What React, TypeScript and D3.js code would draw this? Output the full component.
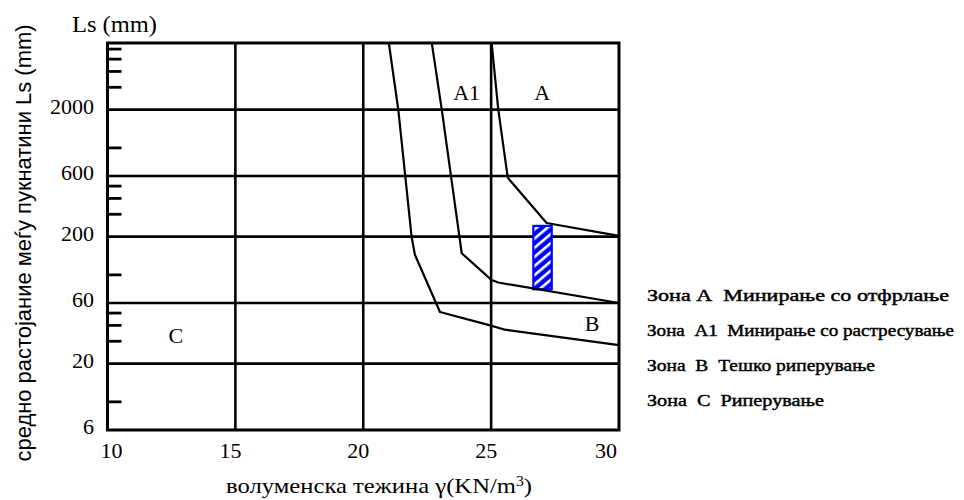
import React from 'react';
import * as d3 from 'd3';

// zone boundary curves: x = volume weight (KN/m3), y = Ls (mm)
const bcX = [21.0, 21.37, 21.89, 22.02, 23.0, 24.96, 25.54, 30];
const bcY = [6700, 2000, 200, 144, 51, 40, 37, 28];
const a1bX = [22.68, 23.07, 23.76, 23.85, 25.02, 25.28, 30];
const a1bY = [6700, 2000, 200, 148, 91, 87, 60];
const aa1X = [25.02, 25.28, 25.65, 27.17, 30];
const aa1Y = [6700, 2000, 583, 256, 203];

// hatched measurement range
const boxX = [26.65, 27.37];
const boxY = [77, 243];

const xTicks = [10, 15, 20, 25, 30];
const yTicks = [6, 20, 60, 200, 600, 2000];
const yMinor = [10, 30, 40, 50, 100, 300, 400, 500, 1000, 3000, 4000, 5000, 6000];

const zoneLabels = ['A1', 'A', 'B', 'C'];
const zoneLabelX = [24.04, 27.0, 28.95, 12.67];
const zoneLabelY = [2400, 2400, 36, 29];

const legend = [
  'Зона А  Минирање со отфрлање',
  'Зона  А1  Минирање со растресување',
  'Зона  В  Тешко риперување',
  'Зона  С  Риперување',
];
const legendWidths = [302, 307, 228, 177];

const margin = { top: 43, right: 345, bottom: 70, left: 107.5 };
const W = 964;
const H = 500;

export default function App() {
  const x = d3.scaleLinear().domain([10, 30]).range([margin.left, W - margin.right]);
  const y = d3.scaleLog().domain([6, 6700]).range([H - margin.bottom, margin.top]);

  const line = d3
    .line<[number, number]>()
    .x(d => x(d[0]))
    .y(d => y(d[1]));

  const curves = [
    d3.zip(bcX, bcY) as [number, number][],
    d3.zip(a1bX, a1bY) as [number, number][],
    d3.zip(aa1X, aa1Y) as [number, number][],
  ];

  const [x0, x1] = x.range();
  const [y0, y1] = y.range();
  const serif = '"Liberation Serif", "Times New Roman", serif';

  const xLabelAnchor = (i: number) => (i === 0 ? 'start' : i === xTicks.length - 1 ? 'end' : 'middle');
  const xLabelShift = (i: number) => (i === 0 ? -7 : i === xTicks.length - 1 ? -2 : -5);

  return (
    <div style={{ position: 'absolute', left: 0, top: 0 }}>
      <svg width={W} height={H} style={{ display: 'block', background: '#fff' }}>
        <defs>
          <pattern id="hatch" patternUnits="userSpaceOnUse" width="7" height="7" patternTransform="rotate(-40)">
            <rect width="7" height="7" fill="#0000ff" />
            <rect y="0" width="7" height="2.6" fill="#fff" />
          </pattern>
        </defs>

        {/* grid */}
        {xTicks.slice(1, -1).map(t => (
          <line key={'gx' + t} x1={x(t)} x2={x(t)} y1={y0} y2={y1} stroke="#000" strokeWidth={2.6} />
        ))}
        {yTicks.slice(1).map(t => (
          <line key={'gy' + t} x1={x0} x2={x1} y1={y(t)} y2={y(t)} stroke="#000" strokeWidth={2.6} />
        ))}
        {yMinor.map(t => (
          <line key={'m' + t} x1={x0} x2={x0 + 14} y1={y(t)} y2={y(t)} stroke="#000" strokeWidth={2.8} />
        ))}

        {/* hatched box */}
        <rect
          x={x(boxX[0])}
          y={y(boxY[1])}
          width={x(boxX[1]) - x(boxX[0])}
          height={y(boxY[0]) - y(boxY[1])}
          fill="url(#hatch)"
          stroke="#0000ff"
          strokeWidth={2.2}
        />

        {/* curves */}
        {curves.map((c, i) => (
          <path key={'c' + i} d={line(c) || ''} fill="none" stroke="#000" strokeWidth={2.2} strokeLinejoin="round" />
        ))}

        {/* frame */}
        <rect x={x0} y={y1} width={x1 - x0} height={y0 - y1} fill="none" stroke="#000" strokeWidth={3} />

        {/* tick labels */}
        {xTicks.map((t, i) => (
          <text
            key={'xt' + t}
            x={x(t) + xLabelShift(i)}
            y={458}
            textAnchor={xLabelAnchor(i)}
            fontFamily={serif}
            fontSize={22}
          >
            {t}
          </text>
        ))}
        {yTicks.map(t => (
          <text key={'yt' + t} x={94} y={y(t) + 4} textAnchor="end" fontFamily={serif} fontSize={22}>
            {t}
          </text>
        ))}

        {/* zone letters */}
        {zoneLabels.map((l, i) => (
          <text
            key={'z' + l}
            x={x(zoneLabelX[i])}
            y={y(zoneLabelY[i])}
            textAnchor="middle"
            fontFamily={serif}
            fontSize={22}
          >
            {l}
          </text>
        ))}

        {/* axis titles */}
        <text x={72} y={32} fontFamily={serif} fontSize={24} textLength={85} lengthAdjust="spacingAndGlyphs">
          Ls (mm)
        </text>
        <text
          x={226}
          y={493}
          fontFamily={serif}
          fontSize={22}
          textLength={306}
          lengthAdjust="spacingAndGlyphs"
        >
          волуменска тежина γ(KN/m<tspan baselineShift="super" fontSize={14}>3</tspan>)
        </text>
        <text
          transform="translate(31,243) rotate(-90)"
          textAnchor="middle"
          fontFamily='"Liberation Sans", Arial, sans-serif'
          fontSize={22}
          textLength={437}
          lengthAdjust="spacingAndGlyphs"
        >
          средно растојание меѓу пукнатини Ls (mm)
        </text>

        {/* legend */}
        {legend.map((l, i) => (
          <text
            key={'lg' + i}
            x={647}
            y={301 + i * 35}
            fontFamily={serif}
            fontSize={17}
            stroke="#000"
            strokeWidth={0.45}
            textLength={legendWidths[i]}
            lengthAdjust="spacingAndGlyphs"
            style={{ whiteSpace: 'pre' }}
          >
            {l}
          </text>
        ))}
      </svg>
    </div>
  );
}
